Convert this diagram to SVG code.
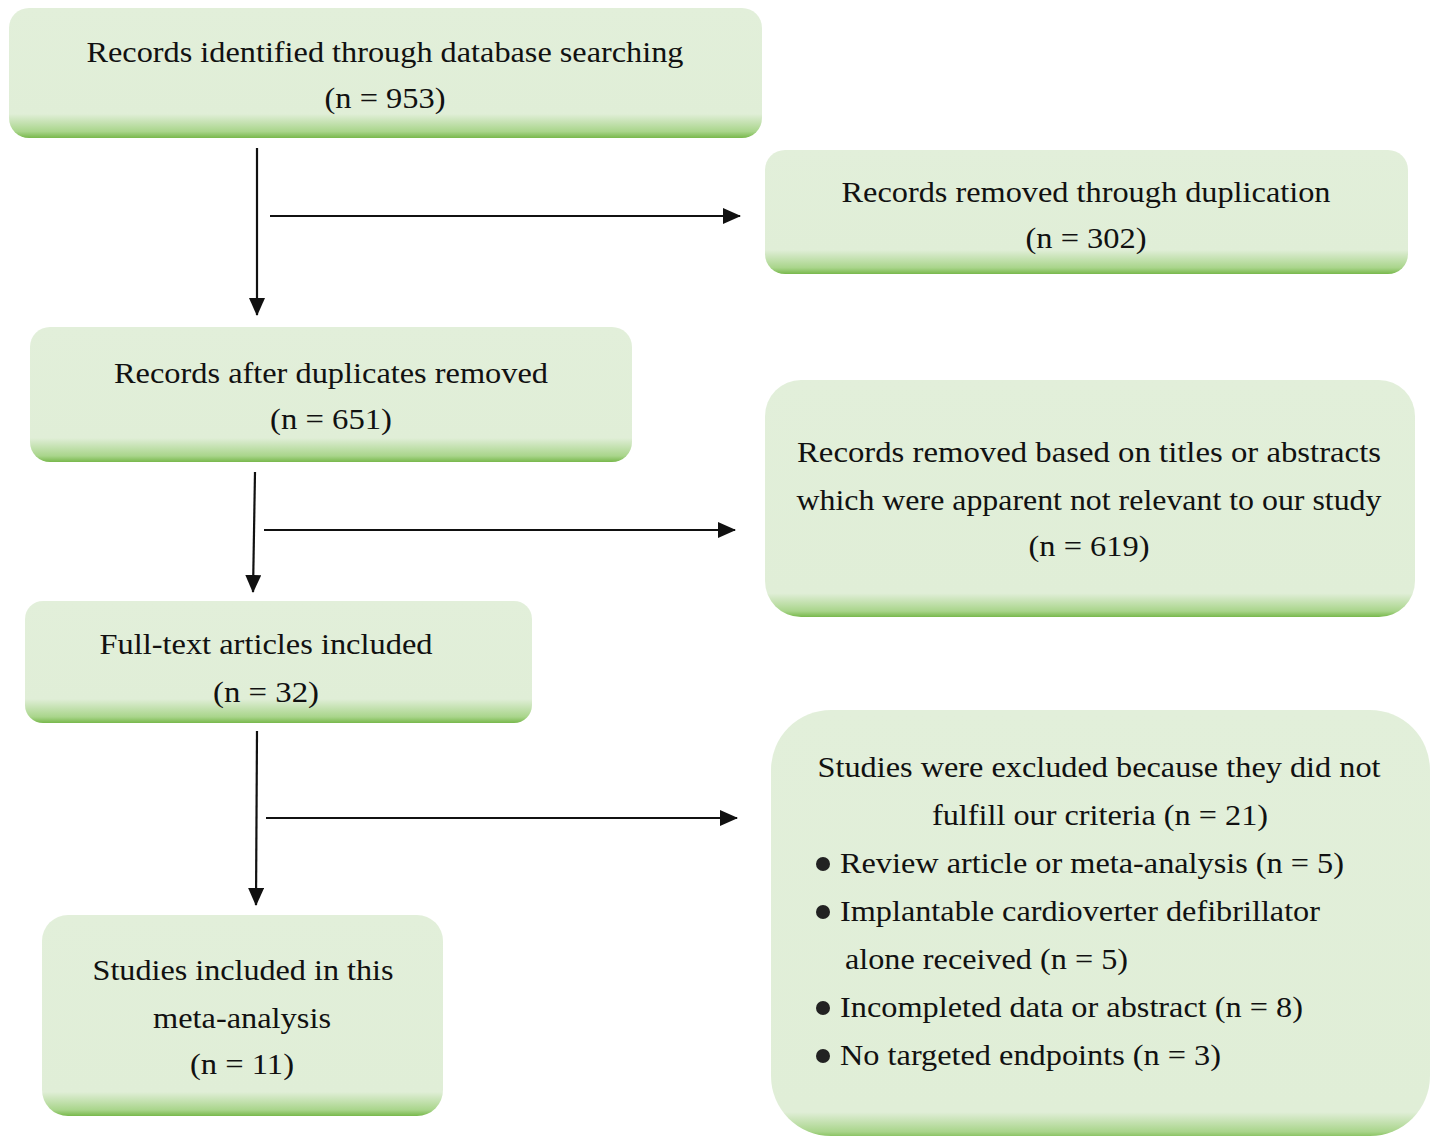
<svg xmlns="http://www.w3.org/2000/svg" width="1432" height="1136" viewBox="0 0 1432 1136">
<style>
text{font-family:'Liberation Serif','Times New Roman',Times,serif;font-size:30px;fill:#111;text-anchor:middle}
.l{text-anchor:start}
.edge{stroke:#111;stroke-width:2.2;fill:none}
</style>
<defs>
<marker id="ah" viewBox="0 0 18 16" refX="17" refY="8" markerWidth="18" markerHeight="16" markerUnits="userSpaceOnUse" orient="auto">
<path d="M0,0 L18,8 L0,16 z" fill="#111"/>
</marker>
<linearGradient id="g1" x1="0" y1="0" x2="0" y2="1"><stop offset="0" stop-color="#e2efda"/><stop offset="0.815" stop-color="#e0eed7"/><stop offset="0.95" stop-color="#a9d58b"/><stop offset="1" stop-color="#78b84c"/></linearGradient>
<linearGradient id="g2" x1="0" y1="0" x2="0" y2="1"><stop offset="0" stop-color="#e2efda"/><stop offset="0.806" stop-color="#e0eed7"/><stop offset="0.95" stop-color="#a9d58b"/><stop offset="1" stop-color="#78b84c"/></linearGradient>
<linearGradient id="g3" x1="0" y1="0" x2="0" y2="1"><stop offset="0" stop-color="#e2efda"/><stop offset="0.822" stop-color="#e0eed7"/><stop offset="0.955" stop-color="#a9d58b"/><stop offset="1" stop-color="#78b84c"/></linearGradient>
<linearGradient id="g4" x1="0" y1="0" x2="0" y2="1"><stop offset="0" stop-color="#e2efda"/><stop offset="0.9" stop-color="#e0eed7"/><stop offset="0.975" stop-color="#a9d58b"/><stop offset="1" stop-color="#78b84c"/></linearGradient>
<linearGradient id="g5" x1="0" y1="0" x2="0" y2="1"><stop offset="0" stop-color="#e2efda"/><stop offset="0.803" stop-color="#e0eed7"/><stop offset="0.95" stop-color="#a9d58b"/><stop offset="1" stop-color="#78b84c"/></linearGradient>
<linearGradient id="g6" x1="0" y1="0" x2="0" y2="1"><stop offset="0" stop-color="#e2efda"/><stop offset="0.944" stop-color="#e0eed7"/><stop offset="0.99" stop-color="#a9d58b"/><stop offset="1" stop-color="#8cc465"/></linearGradient>
<linearGradient id="g7" x1="0" y1="0" x2="0" y2="1"><stop offset="0" stop-color="#e2efda"/><stop offset="0.88" stop-color="#e0eed7"/><stop offset="0.97" stop-color="#a9d58b"/><stop offset="1" stop-color="#78b84c"/></linearGradient>
</defs>

<g id="connectors">
<line class="edge" x1="257" y1="148" x2="257" y2="315" marker-end="url(#ah)"/>
<line class="edge" x1="270" y1="216" x2="740" y2="216" marker-end="url(#ah)"/>
<line class="edge" x1="255" y1="472" x2="253" y2="592" marker-end="url(#ah)"/>
<line class="edge" x1="264" y1="530" x2="735" y2="530" marker-end="url(#ah)"/>
<line class="edge" x1="257" y1="731" x2="256" y2="905" marker-end="url(#ah)"/>
<line class="edge" x1="266" y1="818" x2="737" y2="818" marker-end="url(#ah)"/>
</g>

<g id="n1" font-family="Liberation Serif, serif">
<rect x="9" y="8" width="753" height="130" rx="20" fill="url(#g1)"/>
<text x="385" y="62" textLength="597" lengthAdjust="spacingAndGlyphs">Records identified through database searching</text>
<text x="385" y="108" textLength="121" lengthAdjust="spacingAndGlyphs">(n = 953)</text>
</g>

<g id="n2">
<rect x="765" y="150" width="643" height="124" rx="20" fill="url(#g2)"/>
<text x="1086" y="202" textLength="489" lengthAdjust="spacingAndGlyphs">Records removed through duplication</text>
<text x="1086" y="248" textLength="121" lengthAdjust="spacingAndGlyphs">(n = 302)</text>
</g>

<g id="n3">
<rect x="30" y="327" width="602" height="135" rx="20" fill="url(#g3)"/>
<text x="331" y="383" textLength="434" lengthAdjust="spacingAndGlyphs">Records after duplicates removed</text>
<text x="331" y="429" textLength="122" lengthAdjust="spacingAndGlyphs">(n = 651)</text>
</g>

<g id="n4">
<rect x="765" y="380" width="650" height="237" rx="36" fill="url(#g4)"/>
<text x="1089" y="462" textLength="584" lengthAdjust="spacingAndGlyphs">Records removed based on titles or abstracts</text>
<text x="1089" y="510" textLength="585" lengthAdjust="spacingAndGlyphs">which were apparent not relevant to our study</text>
<text x="1089" y="556" textLength="121" lengthAdjust="spacingAndGlyphs">(n = 619)</text>
</g>

<g id="n5">
<rect x="25" y="601" width="507" height="122" rx="18" fill="url(#g5)"/>
<text x="266" y="654" textLength="333" lengthAdjust="spacingAndGlyphs">Full-text articles included</text>
<text x="266" y="702" textLength="106" lengthAdjust="spacingAndGlyphs">(n = 32)</text>
</g>

<g id="n6">
<rect x="771" y="710" width="659" height="426" rx="60" fill="url(#g6)"/>
<text x="1099" y="777" textLength="563" lengthAdjust="spacingAndGlyphs">Studies were excluded because they did not</text>
<text x="1100" y="825" textLength="336" lengthAdjust="spacingAndGlyphs">fulfill our criteria (n = 21)</text>
<circle cx="823" cy="864" r="7" fill="#222"/>
<text class="l" x="840" y="873" textLength="504" lengthAdjust="spacingAndGlyphs">Review article or meta-analysis (n = 5)</text>
<circle cx="823" cy="912" r="7" fill="#222"/>
<text class="l" x="840" y="921" textLength="480" lengthAdjust="spacingAndGlyphs">Implantable cardioverter defibrillator</text>
<text class="l" x="845" y="969" textLength="283" lengthAdjust="spacingAndGlyphs">alone received (n = 5)</text>
<circle cx="823" cy="1008" r="7" fill="#222"/>
<text class="l" x="840" y="1017" textLength="463" lengthAdjust="spacingAndGlyphs">Incompleted data or abstract (n = 8)</text>
<circle cx="823" cy="1056" r="7" fill="#222"/>
<text class="l" x="840" y="1065" textLength="381" lengthAdjust="spacingAndGlyphs">No targeted endpoints (n = 3)</text>
</g>

<g id="n7">
<rect x="42" y="915" width="401" height="201" rx="26" fill="url(#g7)"/>
<text x="243" y="980" textLength="301" lengthAdjust="spacingAndGlyphs">Studies included in this</text>
<text x="242" y="1028" textLength="178" lengthAdjust="spacingAndGlyphs">meta-analysis</text>
<text x="242" y="1074" textLength="104" lengthAdjust="spacingAndGlyphs">(n = 11)</text>
</g>
</svg>
